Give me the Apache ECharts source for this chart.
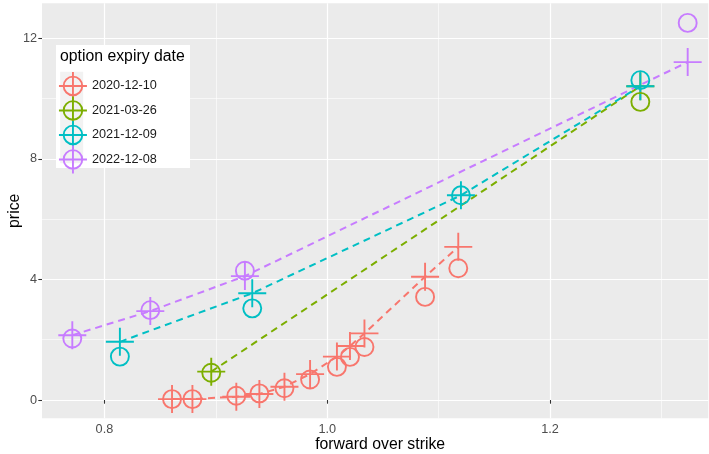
<!DOCTYPE html>
<html>
<head>
<meta charset="utf-8">
<script src="https://cdn.jsdelivr.net/npm/echarts@6/dist/echarts.min.js"></script>
<style>
html,body{margin:0;padding:0;background:#fff;}
#chart{width:709px;height:454px;}
</style>
</head>
<body>
<div id="chart"></div>
<script>
// ---- data ----
const seriesNames = ['2020-12-10', '2021-03-26', '2021-12-09', '2022-12-08'];
const seriesColors = ['#F8766D', '#7CAE00', '#00BFC4', '#C77CFF'];

const x_20201210 = [0.8607, 0.8790, 0.9184, 0.9391, 0.9616, 0.9846, 1.0087, 1.0204, 1.0334, 1.0878, 1.1176];
const obs_20201210 = [0.03, 0.03, 0.14, 0.22, 0.39, 0.68, 1.10, 1.43, 1.76, 3.42, 4.37];
const mod_20201210 = [0.03, 0.03, 0.11, 0.20, 0.44, 0.86, 1.44, 1.79, 2.21, 4.09, 5.08];

const x_20210326 = [0.8959, 1.2810];
const obs_20210326 = [0.905, 9.89];
const mod_20210326 = [0.94, 10.41];

const x_20211209 = [0.8139, 0.9327, 1.1200, 1.2810];
const obs_20211209 = [1.44, 3.04, 6.79, 10.61];
const mod_20211209 = [1.93, 3.54, 6.79, 10.41];

const x_20221208 = [0.7712, 0.8412, 0.9261, 1.3235];
const obs_20221208 = [2.04, 2.98, 4.29, 12.51];
const mod_20221208 = [2.15, 2.95, 4.11, 11.21];

const xTicks = [0.8, 1.0, 1.2];
const xMinorTicks = [0.9, 1.1, 1.3];
const yTicks = [0, 4, 8, 12];
const yMinorTicks = [2, 6, 10];

const xRange = [0.744, 1.342];
const yRange = [-0.607, 13.16];

// ---- build ----
const groups = [
  [x_20201210, obs_20201210, mod_20201210],
  [x_20210326, obs_20210326, mod_20210326],
  [x_20211209, obs_20211209, mod_20211209],
  [x_20221208, obs_20221208, mod_20221208]
];
const FONT = '"Liberation Sans", Arial, sans-serif';
const crossPath = 'path://M0,-14L0,14M-14,0L14,0';
const keyPath = 'path://M-9.3,0A9.3,9.3,0,1,0,9.3,0A9.3,9.3,0,1,0,-9.3,0M0,-14L0,14M-14,0L14,0';

const series = [];
groups.forEach((g, i) => {
  const [xs, obs, mod] = g;
  series.push({
    name: seriesNames[i],
    type: 'line',
    data: xs.map((x, k) => [x, mod[k]]),
    symbol: crossPath,
    symbolSize: 28,
    symbolKeepAspect: true,
    showAllSymbol: true,
    itemStyle: {color: 'transparent', borderColor: seriesColors[i], borderWidth: 1.9},
    lineStyle: {color: seriesColors[i], width: 2, type: [7, 5]},
    clip: false,
    z: 2
  });
  series.push({
    name: seriesNames[i],
    type: 'scatter',
    data: xs.map((x, k) => [x, obs[k]]),
    symbol: 'circle',
    symbolSize: 18,
    itemStyle: {color: 'transparent', borderColor: seriesColors[i], borderWidth: 1.9, opacity: 1},
    z: 3
  });
});

const chart = echarts.init(document.getElementById('chart'), null, {renderer: 'canvas'});
chart.setOption({
  animation: false,
  textStyle: {fontFamily: FONT},
  grid: {left: 42, right: 0.7, top: 3.3, bottom: 35.7, show: true, backgroundColor: '#EBEBEB', borderWidth: 0,
         containLabel: false, outerBoundsMode: 'none'},
  title: {
    text: 'option expiry date', left: 60, top: 49, padding: 0, z: 12,
    textStyle: {fontFamily: FONT, fontSize: 15.8, fontWeight: 'normal', color: '#000'}
  },
  legend: {
    orient: 'vertical', left: 58, top: 71, padding: 0, itemGap: -5.4,
    itemWidth: 28, itemHeight: 28, selectedMode: false, z: 12,
    textStyle: {fontFamily: FONT, fontSize: 12.7, color: '#1A1A1A'},
    data: seriesNames.map((n, i) => ({
      name: n, icon: keyPath,
      itemStyle: {color: 'transparent', borderColor: seriesColors[i], borderWidth: 1.9}
    }))
  },
  graphic: [
    {type: 'rect', z: 10, shape: {x: 56, y: 45, width: 134, height: 123}, style: {fill: '#FFFFFF'}},
    {type: 'rect', z: 11, shape: {x: 60.2, y: 71.7, width: 23, height: 91.6}, style: {fill: '#F2F2F2'}}
  ],
  xAxis: [{
    type: 'value', min: xRange[0], max: xRange[1],
    name: 'forward over strike', nameLocation: 'middle', nameGap: 18, nameMoveOverlap: false,
    nameTextStyle: {fontFamily: FONT, fontSize: 15.8, color: '#000', verticalAlign: 'top', padding: [0, 0, 0, 10]},
    axisLine: {show: false},
    axisTick: {show: true, length: 3.7, customValues: xTicks, lineStyle: {color: '#333333', width: 1.07}},
    axisLabel: {customValues: xTicks, formatter: v => v.toFixed(1), color: '#4D4D4D', fontSize: 12.7, margin: 5, fontFamily: FONT},
    splitLine: {show: true, lineStyle: {color: '#FFFFFF', width: 1.2}}
  }, {
    type: 'value', min: xRange[0], max: xRange[1], gridIndex: 0, position: 'bottom',
    axisLine: {show: false},
    axisTick: {show: false, customValues: xMinorTicks},
    axisLabel: {show: false, customValues: xMinorTicks},
    splitLine: {show: true, lineStyle: {color: '#FFFFFF', width: 0.6}}
  }],
  yAxis: [{
    type: 'value', min: yRange[0], max: yRange[1],
    name: 'price', nameLocation: 'middle', nameGap: 19, nameMoveOverlap: false,
    nameTextStyle: {fontFamily: FONT, fontSize: 15.8, color: '#000'},
    axisLine: {show: false},
    axisTick: {show: true, length: 3.7, customValues: yTicks, lineStyle: {color: '#333333', width: 1.07}},
    axisLabel: {customValues: yTicks, color: '#4D4D4D', fontSize: 12.7, margin: 5, fontFamily: FONT},
    splitLine: {show: true, lineStyle: {color: '#FFFFFF', width: 1.2}}
  }, {
    type: 'value', min: yRange[0], max: yRange[1], gridIndex: 0, position: 'left',
    axisLine: {show: false},
    axisTick: {show: false, customValues: yMinorTicks},
    axisLabel: {show: false, customValues: yMinorTicks},
    splitLine: {show: true, lineStyle: {color: '#FFFFFF', width: 0.6}}
  }],
  series: series
});
</script>
</body>
</html>
